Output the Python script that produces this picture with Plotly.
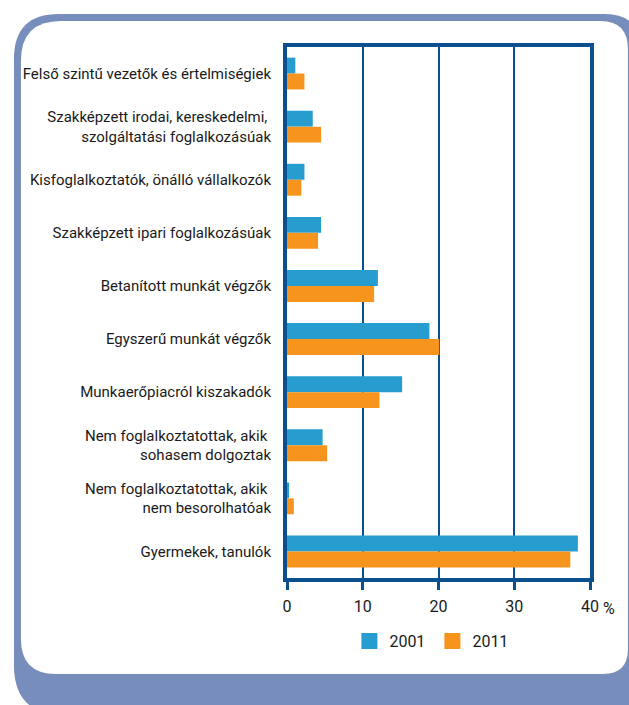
import plotly.graph_objects as go

categories = [
    "Felső szintű vezetők és értelmiségiek",
    "Szakképzett irodai, kereskedelmi,\u00a0<br>szolgáltatási foglalkozásúak",
    "Kisfoglalkoztatók, önálló vállalkozók",
    "Szakképzett ipari foglalkozásúak",
    "Betanított munkát végzők",
    "Egyszerű munkát végzők",
    "Munkaerőpiacról kiszakadók",
    "Nem foglalkoztatottak, akik\u00a0<br>sohasem dolgoztak",
    "Nem foglalkoztatottak, akik\u00a0<br>nem besorolhatóak",
    "Gyermekek, tanulók",
]
series_names = ["2001", "2011"]
values_2001 = [1.1, 3.4, 2.3, 4.5, 12.0, 18.8, 15.2, 4.7, 0.2, 38.4]
values_2011 = [2.3, 4.5, 1.9, 4.1, 11.5, 20.1, 12.2, 5.3, 0.9, 37.4]
xticks = [0, 10, 20, 30, 40]
xticklabels = ["0", "10", "20", "30", "40"]

W, H = 629, 705
L, R, T, B = 286.5, 590, 47, 578
FONT = "Roboto, sans-serif"
DARK = "#0b4f8e"
COLORS = ["#279ccf", "#f7941d"]


def px(x):
    return (x - L) / (R - L)


def py(y):
    return (B - y) / (B - T)


def rounded(x0, y0, x1, y1, tl, tr, br, bl):
    pts = []
    pts.append(f"M{px(x0 + tl)},{py(y0)}")
    pts.append(f"L{px(x1 - tr)},{py(y0)}")
    pts.append(f"Q{px(x1)},{py(y0)} {px(x1)},{py(y0 + tr)}")
    pts.append(f"L{px(x1)},{py(y1 - br)}")
    pts.append(f"Q{px(x1)},{py(y1)} {px(x1 - br)},{py(y1)}")
    pts.append(f"L{px(x0 + bl)},{py(y1)}")
    pts.append(f"Q{px(x0)},{py(y1)} {px(x0)},{py(y1 - bl)}")
    pts.append(f"L{px(x0)},{py(y0 + tl)}")
    pts.append(f"Q{px(x0)},{py(y0)} {px(x0 + tl)},{py(y0)}")
    return " ".join(pts) + " Z"


fig = go.Figure()
for name, vals, col in zip(series_names, [values_2001, values_2011], COLORS):
    fig.add_trace(go.Bar(y=categories, x=vals, name=name, orientation="h",
                         marker=dict(color=col, line=dict(width=0)),
                         legendgroup=name, showlegend=False))
# legend entries with 16px square swatches
for name, col in zip(series_names, COLORS):
    fig.add_trace(go.Scatter(x=[None], y=[None], mode="markers", name=name,
                             legendgroup=name,
                             marker=dict(symbol="square", size=16, color=col,
                                         line=dict(width=0))))

shapes = [
    dict(type="path", xref="paper", yref="paper", layer="below",
         path=rounded(13, 14, 640, 715, 45, 35, 0, 50),
         fillcolor="#778dbb", line=dict(width=0)),
    dict(type="path", xref="paper", yref="paper", layer="below",
         path=rounded(20, 21, 628, 674, 40, 28, 25, 35),
         fillcolor="white", line=dict(width=0)),
    dict(type="rect", xref="paper", yref="paper", layer="below",
         x0=px(L - 2.5), x1=px(R + 2.5), y0=py(B + 2.5), y1=py(T - 2.5),
         fillcolor="rgba(0,0,0,0)", line=dict(width=1, color="#a9bfdc")),
]

fig.update_layout(
    width=W, height=H,
    margin=dict(l=L, r=W - R, t=T, b=H - B, autoexpand=False),
    paper_bgcolor="white", plot_bgcolor="rgba(0,0,0,0)",
    barmode="group", bargap=0.4, bargroupgap=0,
    font=dict(family=FONT, size=15, color="#1a1a1a"),
    showlegend=True,
    legend=dict(orientation="h", x=px(349), xanchor="left", y=py(641), yanchor="middle",
                font=dict(family=FONT, size=16, color="#1a1a1a"),
                bgcolor="rgba(0,0,0,0)", traceorder="normal", itemsizing="trace",
                entrywidth=38, entrywidthmode="pixels"),
    shapes=shapes,
    annotations=[dict(x=40, xref="x", y=py(608), yref="paper", text="%",
                      showarrow=False, xanchor="left", yanchor="middle", xshift=11,
                      font=dict(family=FONT, size=16, color="#1a1a1a"))],
)
fig.update_xaxes(range=[0, 40], tickvals=xticks, ticktext=xticklabels,
                 tickfont=dict(size=16), ticklabelstandoff=3,
                 showgrid=True, gridcolor=DARK, gridwidth=2,
                 showline=True, linecolor=DARK, linewidth=4, mirror=True,
                 ticks="outside", ticklen=8, tickwidth=3, tickcolor=DARK,
                 zeroline=False, fixedrange=True, automargin=False)
fig.update_yaxes(autorange="reversed", showgrid=False,
                 showline=True, linecolor=DARK, linewidth=4, mirror=True,
                 ticks="", ticklabelstandoff=9, zeroline=False, automargin=False)

fig.write_html("out.html", config={"displayModeBar": False},
               post_script="document.body.style.margin='0';document.body.style.overflow='hidden';")
